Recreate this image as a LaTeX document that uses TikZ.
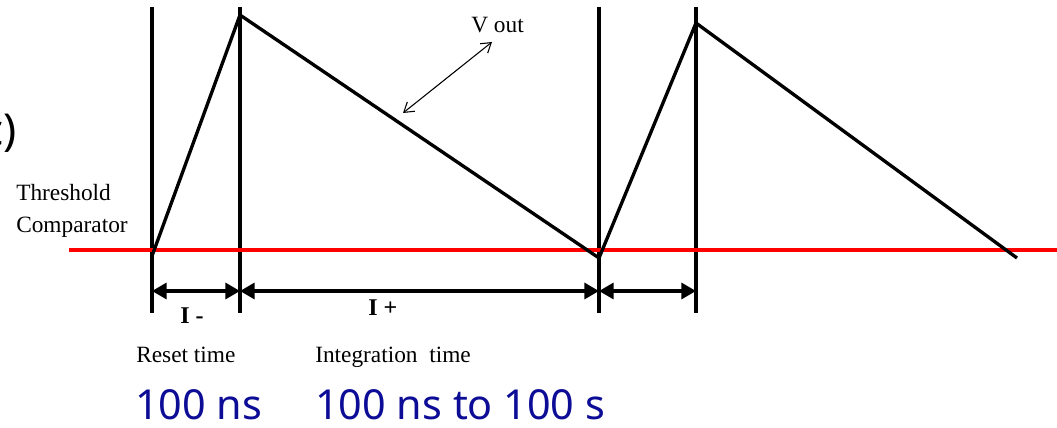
\documentclass[tikz,border=0pt]{standalone}
\usepackage{fontspec}
\setmainfont{Liberation Serif}
\newfontfamily\numfont{Noto Sans}
\usetikzlibrary{arrows.meta, positioning, calc}
\definecolor{numblue}{RGB}{12,12,150}
\tikzset{
  guide/.style  = {line width=2.5pt},
  wave/.style   = {line width=2.5pt, line join=miter},
  thresh/.style = {line width=2.5pt, draw=red},
  span/.style   = {{Triangle[length=11pt, width=12pt]}-{Triangle[length=11pt, width=12pt]},
                   line width=2.5pt},
  ptr/.style    = {{Straight Barb[length=7pt, width=9pt]}-{Straight Barb[length=7pt, width=9pt]},
                   line width=0.8pt},
  lbl/.style    = {font=\fontsize{17.5}{20}\selectfont, inner sep=0pt, anchor=base west},
  cur/.style    = {font=\fontsize{18}{20}\selectfont\bfseries, inner sep=0pt, anchor=base west},
  num/.style    = {font=\numfont\fontsize{31}{34}\selectfont, text=numblue,
                   inner sep=0pt, text depth=0pt, anchor=base west}
}

\begin{document}
\begin{tikzpicture}[x=0.75pt, y=-0.75pt]
  \useasboundingbox (0,0) rectangle (1057,428);

  % -- time marks and spans -------------------------------------------------
  \foreach \x/\n in {152/a, 240/b, 599/c, 696/d} {
    \coordinate (top-\n) at (\x,7);
    \coordinate (bot-\n) at (\x,313);
    \coordinate (dim-\n) at (\x,291);
    \draw[guide] (top-\n) -- (bot-\n);
  }
  \draw[span] (dim-a) -- (dim-b);
  \draw[span] (dim-b) -- (dim-c);
  \draw[span] (dim-c) -- (dim-d);

  % -- threshold line -------------------------------------------------------
  \coordinate (thL) at (69,250);
  \coordinate (thR) at (1057,250);
  \draw[thresh] (thL) -- (thR);

  % -- output ramp ----------------------------------------------------------
  \coordinate (low1)  at (152,256);
  \coordinate (peak1) at (240,15);
  \coordinate (low2)  at (599,258);
  \coordinate (peak2) at (696,23);
  \coordinate (low3)  at (1017,258);
  \draw[wave] (low1) -- (peak1) -- (low2) -- (peak2) -- (low3);

  % -- labels ---------------------------------------------------------------
  \node[num, text=black, font=\numfont\fontsize{33}{36}\selectfont,
        anchor=base east] (tag) at (17,145) {c)};
  \node[lbl] (thr)  at (16,200) {Threshold};
  \node[lbl] (cmp)  at (16,232) {Comparator};

  \node[lbl] (vout) at (471,33) {V out};
  \coordinate (vtip) at (492,42);
  \coordinate (vend) at (403,113);
  \draw[ptr] (vend) -- (vtip);

  \node[cur] (iminus) at (180,323) {I -};
  \node[cur] (iplus)  at (368,315) {I +};

  \node[lbl] (reset) at (136,362) {Reset time};
  \node[lbl] (integ) at (315,362) {Integration\ \ time};

  \node[num] (tres) at (135,419) {100 ns};
  \node[num] (tint) at (315,419) {100 ns to 100 s};

\end{tikzpicture}
\end{document}
